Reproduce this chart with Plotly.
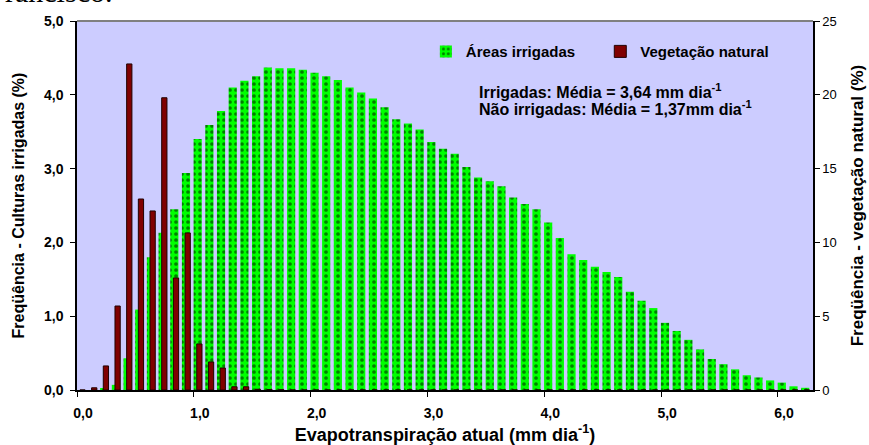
import plotly.graph_objects as go

# Categories: evapotranspiration classes (mm/day)
et_classes = [0.0, 0.1, 0.2, 0.3, 0.4, 0.5, 0.6, 0.7, 0.8, 0.9,
              1.0, 1.1, 1.2, 1.3, 1.4, 1.5, 1.6, 1.7, 1.8, 1.9,
              2.0, 2.1, 2.2, 2.3, 2.4, 2.5, 2.6, 2.7, 2.8, 2.9,
              3.0, 3.1, 3.2, 3.3, 3.4, 3.5, 3.6, 3.7, 3.8, 3.9,
              4.0, 4.1, 4.2, 4.3, 4.4, 4.5, 4.6, 4.7, 4.8, 4.9,
              5.0, 5.1, 5.2, 5.3, 5.4, 5.5, 5.6, 5.7, 5.8, 5.9,
              6.0, 6.1, 6.2]

# Frequency (%) - irrigated crops (left axis)
freq_irrigadas = [0.00, 0.00, 0.02, 0.07, 0.43, 1.09, 1.80, 2.13, 2.45, 2.94,
                  3.40, 3.59, 3.78, 4.10, 4.19, 4.25, 4.37, 4.36, 4.36, 4.34,
                  4.30, 4.25, 4.20, 4.10, 4.03, 3.95, 3.83, 3.67, 3.61, 3.53,
                  3.36, 3.27, 3.20, 3.02, 2.88, 2.83, 2.76, 2.61, 2.52, 2.45,
                  2.27, 2.06, 1.84, 1.76, 1.67, 1.60, 1.53, 1.33, 1.21, 1.11,
                  0.91, 0.80, 0.68, 0.55, 0.42, 0.35, 0.28, 0.20, 0.17, 0.13,
                  0.10, 0.05, 0.03]

# Frequency (%) - natural vegetation (right axis)
freq_natural = [0.00, 0.15, 1.63, 5.69, 22.09, 12.94, 12.13, 19.80, 7.59, 10.64,
                3.12, 1.90, 1.49, 0.22, 0.22, 0.05, 0.03, 0.02, 0.00, 0.00,
                0.00, 0.00, 0.00, 0.00, 0.00, 0.00, 0.00, 0.00, 0.00, 0.00,
                0.00, 0.00, 0.00, 0.00, 0.00, 0.00, 0.00, 0.00, 0.00, 0.00,
                0.00, 0.00, 0.00, 0.00, 0.00, 0.00, 0.00, 0.00, 0.00, 0.00,
                0.00, 0.00, 0.00, 0.00, 0.00, 0.00, 0.00, 0.00, 0.00, 0.00,
                0.00, 0.00, 0.00]

x_tick_positions = [-0.05, 0.95, 1.95, 2.95, 3.95, 4.95, 5.95]
x_tick_labels = ["0,0", "1,0", "2,0", "3,0", "4,0", "5,0", "6,0"]
y_left_ticks = [0, 1, 2, 3, 4, 5]
y_left_labels = ["0,0", "1,0", "2,0", "3,0", "4,0", "5,0"]
y_right_ticks = [0, 5, 10, 15, 20, 25]
y_right_labels = ["0", "5", "10", "15", "20", "25"]

FONT = "Arial, Liberation Sans, sans-serif"

fig = go.Figure()
fig.add_trace(go.Bar(
    x=et_classes, y=freq_irrigadas, name="Áreas irrigadas",
    width=0.07, offset=-0.052, showlegend=True,
    marker=dict(color="#00FF00", line=dict(width=0),
                pattern=dict(shape=".", fgcolor="#008000", bgcolor="#00FF00",
                             size=6, solidity=0.3, fillmode="replace")),
    yaxis="y", legend="legend",
))
fig.add_trace(go.Bar(
    x=et_classes, y=freq_natural, name="Vegetação natural",
    width=0.045, offset=-0.025, showlegend=True,
    marker=dict(color="#800000", line=dict(color="#200000", width=1)),
    yaxis="y2", legend="legend2",
))

legend_style = dict(orientation="h", y=0.917, xanchor="left", yanchor="middle",
                    bgcolor="rgba(0,0,0,0)", font=dict(size=15, weight="bold"),
                    itemwidth=30, visible=True)

fig.update_layout(
    width=869, height=445, showlegend=True,
    margin=dict(l=77, r=56, t=21, b=55, autoexpand=False),
    paper_bgcolor="white", plot_bgcolor="#CCCCFF",
    barmode="overlay",
    font=dict(family=FONT, color="black"),
    xaxis=dict(
        range=[-0.05, 6.25], tickvals=x_tick_positions, ticktext=x_tick_labels,
        ticklabelshift=6, ticklabelstandoff=4, ticks="outside", ticklen=5, tickcolor="black",
        showline=True, linecolor="black", linewidth=1.5, showgrid=False, zeroline=False,
        tickfont=dict(size=14, weight="bold"), automargin=False,
        title=dict(text="Evapotranspiração atual (mm dia<sup>-1</sup>)",
                   font=dict(size=18, weight="bold"), standoff=10),
    ),
    yaxis=dict(
        range=[0, 5], tickvals=y_left_ticks, ticktext=y_left_labels,
        ticks="outside", ticklen=5, tickcolor="black",
        showline=True, linecolor="black", linewidth=1.5, showgrid=False, zeroline=False,
        tickfont=dict(size=14, weight="bold"), ticklabelstandoff=4, automargin=False,
        title=dict(text="Freqüência - Culturas irrigadas (%)",
                   font=dict(size=16, weight="bold")),
    ),
    yaxis2=dict(
        range=[0, 25], tickvals=y_right_ticks, ticktext=y_right_labels,
        overlaying="y", side="right",
        ticks="outside", ticklen=5, tickcolor="black",
        showline=True, linecolor="black", linewidth=1.5, showgrid=False, zeroline=False,
        tickfont=dict(size=13), automargin=False,
        title=dict(text="Freqüência - vegetação natural (%)",
                   font=dict(size=17, weight="bold")),
    ),
    legend=dict(x=0.474, **legend_style),
    legend2=dict(x=0.711, **legend_style),
    shapes=[dict(type="line", xref="paper", yref="paper", x0=0, x1=1, y0=1, y1=1,
                 line=dict(color="#808080", width=2))],
    annotations=[
        dict(text="Irrigadas: Média = 3,64 mm dia<sup>-1</sup>", xref="paper", yref="paper",
             x=0.5435, y=0.811, xanchor="left", yanchor="middle", showarrow=False,
             font=dict(size=16, weight="bold")),
        dict(text="Não irrigadas: Média = 1,37mm dia<sup>-1</sup>", xref="paper", yref="paper",
             x=0.5435, y=0.764, xanchor="left", yanchor="middle", showarrow=False,
             font=dict(size=16, weight="bold")),
        dict(text="rancisco.", xref="paper", yref="paper", x=-0.1, y=1.03,
             xanchor="left", yanchor="bottom", showarrow=False,
             font=dict(size=30, family="Liberation Serif, Times New Roman, serif")),
    ],
)

fig.write_html("out.html", config={"displayModeBar": False},
               post_script="document.body.style.margin='0';")
